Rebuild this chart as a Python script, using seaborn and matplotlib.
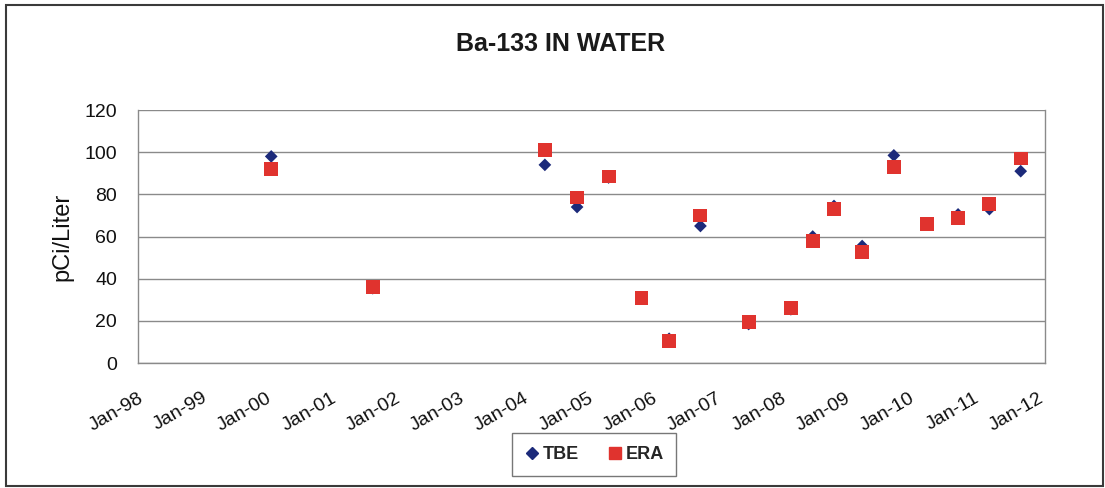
import pandas as pd
import numpy as np
import matplotlib.pyplot as plt
import seaborn as sns
from matplotlib.patches import Rectangle
from matplotlib.lines import Line2D

# values
sample_dates = ['2000-01-28', '2001-08-27', '2004-05-01', '2004-10-31', '2005-04-28',
                '2005-11-01', '2006-04-07', '2006-10-02', '2007-07-03', '2008-02-28',
                '2008-07-01', '2008-10-30', '2009-04-08', '2009-10-05', '2010-04-10',
                '2010-10-05', '2011-04-01', '2011-09-26']
tbe_values = [98, 35.5, 94, 74, 88, 31, 11.5, 65, 18.5, 25.5,
              60, 74.5, 55.5, 98.5, 66, 70.5, 73, 91]
era_values = [92, 36, 101, 78.5, 88.5, 31, 10.3, 70, 19.6, 26,
              58, 73, 52.5, 93, 66, 69, 75.5, 97]

year_ticks = ['1998-01-01', '1999-01-01', '2000-01-01', '2001-01-01', '2002-01-01',
              '2003-01-01', '2004-01-01', '2005-01-01', '2006-01-01', '2007-01-01',
              '2008-01-01', '2009-01-01', '2010-01-01', '2011-01-01', '2012-01-01']
tick_labels = ['Jan-98', 'Jan-99', 'Jan-00', 'Jan-01', 'Jan-02', 'Jan-03', 'Jan-04',
               'Jan-05', 'Jan-06', 'Jan-07', 'Jan-08', 'Jan-09', 'Jan-10', 'Jan-11', 'Jan-12']

tbe_color = '#1c2a7a'
era_color = '#e0332e'
grid_color = '#8a8a8a'

sns.set_style('white')
plt.rcParams['font.family'] = ['Liberation Sans', 'DejaVu Sans']

df = pd.DataFrame({'date': pd.to_datetime(sample_dates),
                   'TBE': tbe_values, 'ERA': era_values})

fig = plt.figure(figsize=(11.05, 4.88), dpi=100)
ax = fig.add_axes([0.1249, 0.2561, 0.8208, 0.5184])

sns.scatterplot(data=df, x='date', y='TBE', marker='D', s=42, color=tbe_color,
                edgecolor='none', linewidth=0, ax=ax, zorder=3, legend=False)
sns.scatterplot(data=df, x='date', y='ERA', marker='s', s=100, color=era_color,
                edgecolor='none', linewidth=0, ax=ax, zorder=4, legend=False)

ax.set_ylim(0, 120)
ax.set_yticks(range(0, 121, 20))
ax.yaxis.grid(True, color=grid_color, lw=1)
ax.xaxis.grid(False)
ax.set_axisbelow(True)

ax.set_xlim(pd.Timestamp('1998-01-01'), pd.Timestamp('2012-02-11'))
ax.set_xticks(pd.to_datetime(year_ticks), tick_labels, rotation=30, ha='right',
              va='top', rotation_mode='anchor')

ax.tick_params(axis='both', direction='out', length=4, width=1, color=grid_color,
               labelsize=14, labelcolor='#111111')
ax.tick_params(axis='y', pad=11)
ax.tick_params(axis='x', pad=15)

for side in ['left', 'right', 'bottom']:
    ax.spines[side].set_visible(True)
    ax.spines[side].set_color(grid_color)
    ax.spines[side].set_linewidth(1)
ax.spines['top'].set_visible(False)

ax.set_xlabel('')
ax.set_ylabel('pCi/Liter', fontsize=17, color='#111111', labelpad=8)

fig.text(0.507, 0.91, 'Ba-133 IN WATER', ha='center', va='center',
         fontsize=18, fontweight='bold', color='#1a1a1a')

handles = [Line2D([], [], marker='D', ls='none', color=tbe_color, markersize=6),
           Line2D([], [], marker='s', ls='none', color=era_color, markersize=9)]
leg = fig.legend(handles, ['TBE', 'ERA'], loc='center', bbox_to_anchor=(0.5376, 0.0687),
                 ncol=2, frameon=True, fancybox=False, edgecolor='#555555',
                 prop={'weight': 'bold', 'size': 13}, handlelength=0.8,
                 handletextpad=0.2, columnspacing=1.6, borderpad=0.7)
leg.get_frame().set_linewidth(1)

fig.patches.append(Rectangle((0.0054, 0.004), 0.9926, 0.986, transform=fig.transFigure,
                             fill=False, edgecolor='#3a3a3a', lw=1.5))

fig.savefig('out.png', dpi=100)
